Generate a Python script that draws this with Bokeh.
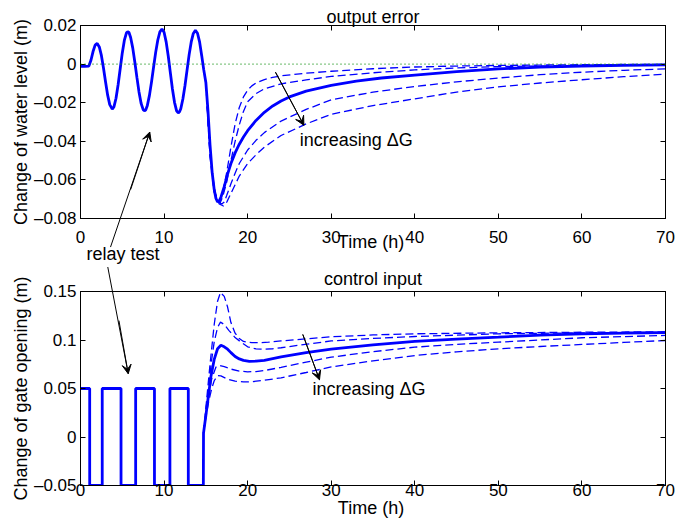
from bokeh.plotting import figure
from bokeh.layouts import column
from bokeh.models import (FixedTicker, CustomJSTickFormatter, LinearAxis, Span,
                          Arrow, VeeHead, Range1d)
from bokeh.core.properties import value
from bokeh.embed import file_html
from bokeh.resources import INLINE

# ---------------- data ----------------
x_ticks = [0, 10, 20, 30, 40, 50, 60, 70]
x_tick_labels = ["0", "10", "20", "30", "40", "50", "60", "70"]
err_y_ticks = [-0.08, -0.06, -0.04, -0.02, 0.0, 0.02]
err_y_labels = ["\u20130.08", "\u20130.06", "\u20130.04", "\u20130.02", "0", "0.02"]
gate_y_ticks = [-0.05, 0.0, 0.05, 0.1, 0.15]
gate_y_labels = ["\u20130.05", "0", "0.05", "0.1", "0.15"]

# output error, nominal controller (solid)
err_t = [0, 0.5, 1.0, 1.25, 1.5, 1.75, 2.0, 2.25, 2.5, 2.75, 3.0, 3.25, 3.5, 3.8, 4.0,
         4.25, 4.5, 4.75, 5.0, 5.25, 5.5, 5.65, 5.8, 6.0, 6.25, 6.5, 6.75, 7.0, 7.25,
         7.5, 7.65, 7.8, 8.0, 8.25, 8.5, 8.75, 9.0, 9.25, 9.5, 9.75, 10.0, 10.25, 10.5,
         10.75, 11.0, 11.25, 11.5, 11.7, 11.85, 12.0, 12.25, 12.5, 12.75, 13.0, 13.25,
         13.5, 13.75, 14.0, 14.25, 14.5, 14.75, 15.0, 15.25, 15.5, 15.75, 16.0, 16.2,
         16.4, 16.6, 16.8, 17.2, 17.6, 18.0, 18.5, 19.0, 19.5, 20, 21, 22, 23, 24, 25,
         27, 30, 33, 36, 40, 45, 50, 55, 60, 65, 70]
err_main = [-0.0012, -0.0012, -0.001, 0.002, 0.0065, 0.0098, 0.0107, 0.0089, 0.0045,
            -0.002, -0.0093, -0.0161, -0.021, -0.0233, -0.0222, -0.0177, -0.0107,
            -0.0024, 0.0058, 0.0124, 0.0162, 0.0168, 0.0164, 0.0138, 0.0084, 0.0011,
            -0.0069, -0.0144, -0.0203, -0.0236, -0.0242, -0.0238, -0.0214, -0.0162,
            -0.0092, -0.0014, 0.0062, 0.0125, 0.0167, 0.0182, 0.0165, 0.0115, 0.0042,
            -0.0044, -0.0129, -0.0198, -0.0242, -0.0253, -0.0247, -0.0231, -0.0181,
            -0.0112, -0.0031, 0.0049, 0.0115, 0.0159, 0.0175, 0.016, 0.0115, 0.0045,
            -0.003, -0.0095, -0.024, -0.042, -0.056, -0.065, -0.0695, -0.0714, -0.0708,
            -0.069, -0.0635, -0.057, -0.0515, -0.046, -0.0415, -0.0378, -0.0345,
            -0.0292, -0.025, -0.0217, -0.0191, -0.017, -0.014, -0.011, -0.0088, -0.0072,
            -0.0057, -0.0039, -0.0025, -0.0016, -0.0011, -0.0007, -0.0004]

# output error, other gain variations (dashed)
err_d1_t = [15.0, 15.5, 16.0, 16.3, 16.6, 17.0, 17.5, 18.0, 18.5, 19.0, 19.5, 20, 20.5,
            21, 22, 23, 24, 27, 30, 35, 40, 45, 50, 60, 70]
err_d1 = [-0.0095, -0.045, -0.064, -0.070, -0.0715, -0.067, -0.056, -0.043, -0.031,
          -0.0225, -0.017, -0.0135, -0.0113, -0.0098, -0.008, -0.0069, -0.0061, -0.0047,
          -0.0037, -0.0024, -0.0015, -0.001, -0.0007, -0.0003, -0.0001]
err_d2_t = [15.0, 15.5, 16.0, 16.4, 16.7, 17.0, 17.5, 18.0, 18.5, 19.0, 19.5, 20, 21, 22,
            24, 27, 30, 35, 40, 45, 50, 60, 70]
err_d2 = [-0.0095, -0.046, -0.065, -0.0712, -0.072, -0.069, -0.061, -0.050, -0.040,
          -0.0315, -0.0245, -0.0195, -0.0153, -0.0128, -0.0102, -0.0082, -0.0064,
          -0.0045, -0.003, -0.002, -0.0013, -0.0006, -0.0002]
err_d3_t = [15.0, 15.5, 16.0, 16.5, 16.9, 17.2, 17.5, 18.0, 18.5, 19.0, 20, 21, 22, 24,
            27, 30, 35, 40, 45, 50, 55, 60, 65, 70]
err_d3 = [-0.0095, -0.047, -0.066, -0.0715, -0.0725, -0.0715, -0.068, -0.062, -0.0565,
          -0.0515, -0.0445, -0.0395, -0.0355, -0.0295, -0.0235, -0.0185, -0.0145,
          -0.0116, -0.0092, -0.0072, -0.0055, -0.0042, -0.0032, -0.0025]
err_d4_t = [15.0, 15.5, 16.0, 16.6, 17.1, 17.5, 18.0, 18.5, 19.0, 20, 21, 22, 24, 27, 30,
            35, 40, 45, 50, 55, 60, 65, 70]
err_d4 = [-0.0095, -0.048, -0.0665, -0.0725, -0.0735, -0.0715, -0.067, -0.0625, -0.058,
          -0.0515, -0.047, -0.043, -0.037, -0.031, -0.026, -0.0215, -0.018, -0.0145,
          -0.0118, -0.0098, -0.0081, -0.0065, -0.0052]

# control input (gate opening), nominal (solid) incl. relay test
gate_t = [0, 1.1, 1.1, 2.6, 2.6, 4.85, 4.85, 6.6, 6.6, 8.85, 8.85, 10.7, 10.7, 12.9,
          12.9, 14.7, 14.72, 15.0, 15.3, 15.6, 16.0, 16.4, 16.8, 17.2, 17.6, 18.0, 18.5,
          19.0, 19.5, 20.2, 21, 22, 24, 27, 30, 35, 40, 45, 50, 55, 60, 65, 70]
gate_main = [0.05, 0.05, -0.05, -0.05, 0.05, 0.05, -0.05, -0.05, 0.05, 0.05, -0.05,
             -0.05, 0.05, 0.05, -0.05, -0.05, 0.004, 0.022, 0.042, 0.062, 0.08, 0.091,
             0.0945, 0.093, 0.0905, 0.087, 0.083, 0.0805, 0.079, 0.078, 0.0783, 0.079,
             0.0825, 0.087, 0.0905, 0.095, 0.0985, 0.101, 0.1029, 0.105, 0.1063, 0.107,
             0.1077]

gate_d1_t = [14.72, 15.0, 15.5, 16.0, 16.4, 16.75, 17.2, 17.6, 18.0, 18.5, 19.0, 19.5,
             20.5, 21.5, 22.5, 24, 27, 30, 35, 40, 50, 60, 70]
gate_d1 = [0.004, 0.03, 0.075, 0.116, 0.14, 0.149, 0.145, 0.134, 0.118, 0.107, 0.1015,
           0.0985, 0.0972, 0.0972, 0.0978, 0.099, 0.1012, 0.1033, 0.1052, 0.1064, 0.1074,
           0.108, 0.1084]
gate_d2_t = [14.72, 15.0, 15.3, 15.7, 16.0, 16.4, 16.75, 17.2, 17.75, 18.5, 19.1, 20, 21,
             22, 23, 24, 26, 30, 35, 40, 50, 60, 70]
gate_d2 = [0.004, 0.026, 0.05, 0.08, 0.098, 0.113, 0.1184, 0.116, 0.11, 0.1025, 0.0985,
           0.093, 0.0908, 0.0905, 0.091, 0.092, 0.0945, 0.099, 0.1016, 0.1036, 0.1064,
           0.1074, 0.108]
gate_d3_t = [14.72, 15.0, 15.3, 15.7, 16.2, 16.6, 17.2, 18.0, 19.0, 20.0, 21.0, 22.0, 24,
             27, 30, 35, 40, 45, 50, 55, 60, 65, 70]
gate_d3 = [0.004, 0.022, 0.04, 0.06, 0.072, 0.0738, 0.0725, 0.07, 0.068, 0.0672, 0.0675,
           0.0685, 0.0718, 0.0772, 0.0823, 0.088, 0.0926, 0.0955, 0.0978, 0.1, 0.1023,
           0.1035, 0.1047]
gate_d4_t = [14.72, 15.0, 15.3, 15.7, 16.0, 16.4, 16.8, 17.5, 18.5, 19.5, 20.5, 22, 24, 27,
             30, 35, 40, 45, 50, 55, 60, 65, 70]
gate_d4 = [0.004, 0.02, 0.035, 0.05, 0.058, 0.0632, 0.063, 0.06, 0.0575, 0.0568, 0.057,
           0.0585, 0.061, 0.0665, 0.0722, 0.0785, 0.084, 0.0878, 0.0909, 0.0933, 0.0954,
           0.0975, 0.0995]

# ---------------- styling ----------------
FONT = "Liberation Sans"
TICK_FS = "17px"
TEXT_FS = "18px"
BLUE = "#0000ff"


def fmt(vals, labs):
    return CustomJSTickFormatter(args=dict(vals=vals, labs=labs), code="""
        for (let i = 0; i < vals.length; i++) {
            if (Math.abs(vals[i] - tick) < 1e-9) return labs[i];
        }
        return '';
    """)


def style_axis(ax, ticks, labels, show_labels=True, standoff=4):
    ax.ticker = FixedTicker(ticks=ticks)
    ax.major_tick_in = 5
    ax.major_tick_out = 0
    ax.minor_tick_line_color = None
    ax.axis_line_color = "black"
    ax.major_tick_line_color = "black"
    ax.major_label_text_font = FONT
    ax.major_label_text_color = "black"
    if show_labels:
        ax.formatter = fmt(ticks, labels)
        ax.major_label_text_font_size = TICK_FS
        ax.major_label_standoff = standoff
    else:
        ax.formatter = CustomJSTickFormatter(code="return '';")
        ax.major_label_text_font_size = "1px"
        ax.major_label_standoff = 0


def make_fig(height, ylo, yhi, border_top, border_bottom, yticks, ylabels, ylabel,
             xstandoff):
    p = figure(width=675, height=height, output_backend="svg", toolbar_location=None,
               x_range=Range1d(0, 70), y_range=Range1d(ylo, yhi),
               min_border_left=80, min_border_right=10,
               min_border_top=border_top, min_border_bottom=border_bottom,
               x_axis_location=None, y_axis_location=None)
    p.grid.visible = False
    p.outline_line_color = "black"
    p.outline_line_width = 1
    p.background_fill_color = "white"
    p.border_fill_color = "white"

    xb = LinearAxis()
    style_axis(xb, x_ticks, x_tick_labels, True, xstandoff)
    p.add_layout(xb, "below")
    xa = LinearAxis()
    style_axis(xa, x_ticks, x_tick_labels, False)
    p.add_layout(xa, "above")

    yl = LinearAxis(axis_label=ylabel)
    style_axis(yl, yticks, ylabels, True, 4)
    yl.axis_label_text_font = FONT
    yl.axis_label_text_font_size = TEXT_FS
    yl.axis_label_text_font_style = "normal"
    yl.axis_label_text_color = "black"
    yl.axis_label_standoff = 0
    p.add_layout(yl, "left")
    yr = LinearAxis()
    style_axis(yr, yticks, ylabels, False)
    p.add_layout(yr, "right")
    return p


def text(p, x, y, s, align="left", baseline="middle"):
    # overlay-level glyph so that text outside the frame is not clipped
    p.text(x=[x], y=[y], text=[s], text_font=value(FONT), text_font_size=value(TEXT_FS),
           text_color="black", text_align=align, text_baseline=baseline, level="overlay")


def arrow(p, x0, y0, x1, y1, xm=None, ym=None):
    # shaft (overlay glyph, may extend outside the frame) + head (annotation)
    p.segment(x0=[x0], y0=[y0], x1=[x1], y1=[y1], line_color="black", line_width=1,
              level="overlay")
    if xm is None:
        xm, ym = x0, y0
    p.add_layout(Arrow(x_start=xm, y_start=ym, x_end=x1, y_end=y1, line_color="black",
                       line_width=1,
                       end=VeeHead(size=9, fill_color="black", line_color="black")))


# ---------------- top: output error ----------------
p1 = make_fig(267, -0.08, 0.02, 25, 49, err_y_ticks, err_y_labels,
              "Change of water level (m)", 12)
p1.add_layout(Span(location=0, dimension="width", line_color="#109010", line_width=1.2,
                   line_dash="1 3"))
for t, v in [(err_d1_t, err_d1), (err_d2_t, err_d2), (err_d3_t, err_d3),
             (err_d4_t, err_d4)]:
    p1.line(t, v, line_color=BLUE, line_width=1.3, line_dash="8 4")
p1.line(err_t, err_main, line_color=BLUE, line_width=2.8)

text(p1, 35, 0.0245, "output error", "center", "alphabetic")
text(p1, 34.76, -0.092, "Time (h)", "center", "alphabetic")
arrow(p1, 23.33, -0.0042, 26.73, -0.0317)
text(p1, 26.24, -0.0395, "increasing \u0394G")
arrow(p1, 3.59, -0.0948, 8.29, -0.0352, 6.0, -0.065)
text(p1, 0.72, -0.0985, "relay test")

# ---------------- bottom: control input ----------------
p2 = make_fig(252, -0.05, 0.15, 24, 34, gate_y_ticks, gate_y_labels,
              "Change of gate opening (m)", -2)
for t, v in [(gate_d1_t, gate_d1), (gate_d2_t, gate_d2), (gate_d3_t, gate_d3),
             (gate_d4_t, gate_d4)]:
    p2.line(t, v, line_color=BLUE, line_width=1.3, line_dash="8 4")
p2.line(gate_t, gate_main, line_color=BLUE, line_width=2.8)

text(p2, 35, 0.1624, "control input", "center", "alphabetic")
text(p2, 34.76, -0.0737, "Time (h)", "center", "alphabetic")
arrow(p2, 26.6, 0.1057, 28.6, 0.059)
text(p2, 27.76, 0.049, "increasing \u0394G")
arrow(p2, 3.23, 0.1768, 5.71, 0.0652, 4.6, 0.12)

layout = column(p1, p2, spacing=0)

open("out.html", "w").write(file_html(layout, INLINE))
